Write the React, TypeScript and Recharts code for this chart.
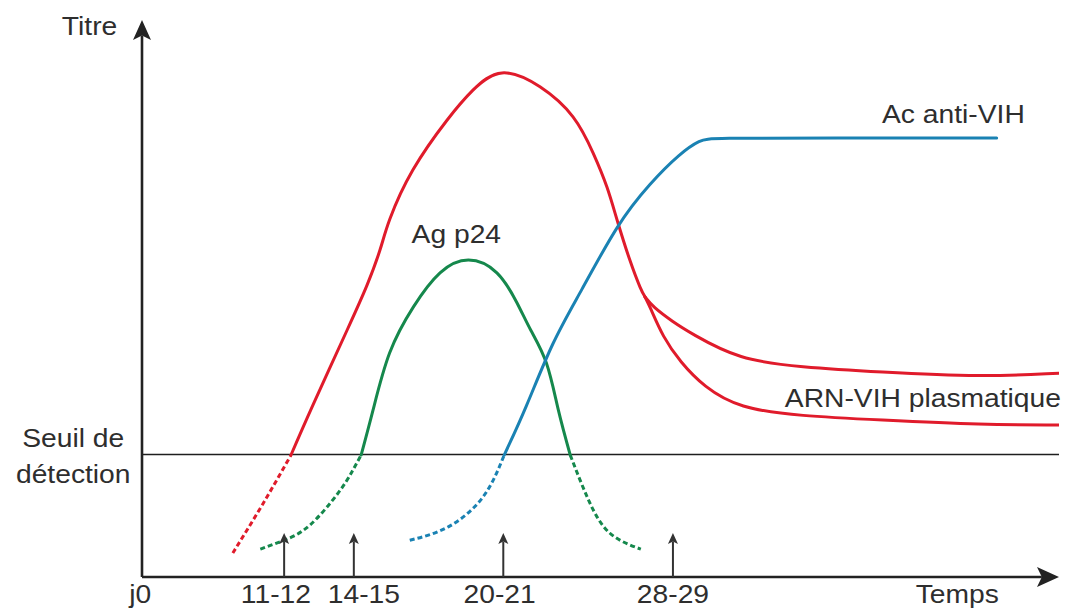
import { LineChart, Line, XAxis, YAxis, ReferenceLine, ReferenceDot } from 'recharts';

// Schematic units: time 0..100 (j0 at 0), titre 0..100.
const THRESHOLD = 22;

// ARN-VIH plasmatique (red)
const rnaUndetected = [
  { t: 9.9, v: 4.3 },
  { t: 13.1, v: 12.9 },
  { t: 16.25, v: 21.9 },
];
const rnaDetected = [
  { t: 16.25, v: 21.9 },
  { t: 18.65, v: 30.9 },
  { t: 22.36, v: 44.3 },
  { t: 24.54, v: 52.4 },
  { t: 25.95, v: 58.7 },
  { t: 27.04, v: 64.3 },
  { t: 29.55, v: 73.1 },
  { t: 33.26, v: 82.0 },
  { t: 36.09, v: 87.4 },
  { t: 39.26, v: 90.5 },
  { t: 43.4, v: 88.0 },
  { t: 47.0, v: 82.6 },
  { t: 49.2, v: 76.1 },
  { t: 50.7, v: 70.0 },
  { t: 51.9, v: 63.6 },
  { t: 53.2, v: 56.9 },
  { t: 54.3, v: 52.1 },
  { t: 54.85, v: 50.3 },
];
const rnaPlateauHigh = [
  { t: 54.85, v: 50.3 },
  { t: 55.7, v: 48.5 },
  { t: 57.9, v: 45.8 },
  { t: 59.8, v: 43.8 },
  { t: 65.1, v: 39.0 },
  { t: 71.8, v: 37.7 },
  { t: 80.3, v: 36.8 },
  { t: 91.7, v: 35.9 },
  { t: 100, v: 36.6 },
];
const rnaPlateauLow = [
  { t: 54.85, v: 50.3 },
  { t: 55.4, v: 48.5 },
  { t: 56.8, v: 43.1 },
  { t: 58.7, v: 38.6 },
  { t: 61.3, v: 34.1 },
  { t: 65.1, v: 30.3 },
  { t: 71.8, v: 28.9 },
  { t: 80.3, v: 28.2 },
  { t: 91.7, v: 27.3 },
  { t: 100, v: 27.3 },
];

// Ag p24 (green)
const p24RiseUndetected = [
  { t: 12.9, v: 5.0 },
  { t: 15.5, v: 6.6 },
  { t: 18.3, v: 9.3 },
  { t: 21.4, v: 15.1 },
  { t: 22.9, v: 18.9 },
  { t: 23.9, v: 21.9 },
];
const p24Detected = [
  { t: 23.9, v: 21.9 },
  { t: 25.2, v: 30.0 },
  { t: 27.0, v: 40.2 },
  { t: 29.6, v: 48.5 },
  { t: 32.5, v: 54.6 },
  { t: 35.6, v: 56.9 },
  { t: 38.7, v: 54.6 },
  { t: 40.9, v: 49.2 },
  { t: 42.4, v: 44.3 },
  { t: 44.1, v: 38.4 },
  { t: 45.4, v: 30.0 },
  { t: 46.7, v: 21.9 },
];
const p24FallUndetected = [
  { t: 46.7, v: 21.9 },
  { t: 48.7, v: 13.8 },
  { t: 51.0, v: 7.9 },
  { t: 54.4, v: 5.0 },
];

// Ac anti-VIH (blue)
const abUndetected = [
  { t: 29.2, v: 6.6 },
  { t: 33.4, v: 9.0 },
  { t: 37.2, v: 14.4 },
  { t: 39.5, v: 21.9 },
];
const abDetected = [
  { t: 39.5, v: 21.9 },
  { t: 41.8, v: 30.0 },
  { t: 44.8, v: 42.5 },
  { t: 47.8, v: 51.0 },
  { t: 51.9, v: 63.6 },
  { t: 55.4, v: 70.7 },
  { t: 58.7, v: 76.1 },
  { t: 60.9, v: 78.5 },
  { t: 62.1, v: 78.8 },
  { t: 75.0, v: 78.8 },
  { t: 93.2, v: 78.8 },
];

// x axis labels and the small arrows above them
const TIME_TICKS = [-0.2, 14.6, 24.2, 39.0, 57.9, 88.9];
const TIME_LABELS = ['j0', '11-12', '14-15', '20-21', '28-29', 'Temps'];
const ARROW_TIMES = [15.5, 23.1, 39.4, 57.9];
const ARROW_TOP = 7.9;

const ANNOTATIONS = [
  { text: 'Titre', t: -2.7, v: 97.3, anchor: 'end' },
  { text: 'Seuil de', t: -7.5, v: 23.3, anchor: 'middle' },
  { text: 'détection', t: -7.5, v: 16.9, anchor: 'middle' },
  { text: 'Ag p24', t: 29.4, v: 60.0, anchor: 'start' },
  { text: 'Ac anti-VIH', t: 80.7, v: 81.5, anchor: 'start' },
  { text: 'ARN-VIH plasmatique', t: 70.1, v: 30.5, anchor: 'start' },
];

const RED = '#e01b2b';
const GREEN = '#15884c';
const BLUE = '#1a82b3';
const INK = '#2e2e2e';
const FONT = '"Liberation Sans", Arial, sans-serif';
const FONT_SIZE = 25;
const STRETCH = 1.13; // the source lettering is a little wide

function StretchedText({ x, y, text, anchor }: { x: number; y: number; text: string; anchor: string }) {
  return (
    <text
      transform={`translate(${x} ${y}) scale(${STRETCH} 1)`}
      textAnchor={anchor as any}
      fontFamily={FONT}
      fontSize={FONT_SIZE}
      fill={INK}
    >
      {text}
    </text>
  );
}

function arrowShape(head: number, halfWidth: number, color: string, width: number) {
  return (p: any) => {
    const { x1, y1, x2, y2 } = p;
    const len = Math.hypot(x2 - x1, y2 - y1) || 1;
    const ux = (x2 - x1) / len;
    const uy = (y2 - y1) / len;
    const nx = -uy;
    const ny = ux;
    const bx = x2 - ux * head;
    const by = y2 - uy * head;
    const notchX = x2 - ux * head * 0.78;
    const notchY = y2 - uy * head * 0.78;
    const pts = [
      `${x2},${y2}`,
      `${bx + nx * halfWidth},${by + ny * halfWidth}`,
      `${notchX},${notchY}`,
      `${bx - nx * halfWidth},${by - ny * halfWidth}`,
    ].join(' ');
    return (
      <g>
        <line x1={x1} y1={y1} x2={notchX} y2={notchY} stroke={color} strokeWidth={width} />
        <polygon points={pts} fill={color} />
      </g>
    );
  };
}

const TimeTick = ({ x, y, payload, index }: any) => {
  const i = TIME_TICKS.indexOf(payload.value);
  return <StretchedText x={x} y={y + 18} text={TIME_LABELS[i >= 0 ? i : index]} anchor="middle" />;
};

const lineProps = {
  type: 'natural' as const,
  dataKey: 'v',
  dot: false,
  activeDot: false,
  isAnimationActive: false,
  strokeWidth: 3,
  strokeLinecap: 'round' as const,
};
const dotted = { strokeDasharray: '5 3', strokeLinecap: 'butt' as const };

export default function App() {
  return (
    <div style={{ position: 'absolute', left: 0, top: 0, background: '#fff' }}>
      <LineChart width={1073} height={612} margin={{ top: 20, right: 14, bottom: 0, left: 142 }}>
        <XAxis
          dataKey="t"
          type="number"
          domain={[0, 100]}
          allowDataOverflow
          ticks={TIME_TICKS}
          interval={0}
          tick={<TimeTick />}
          tickLine={false}
          axisLine={false}
          height={35}
        />
        <YAxis type="number" domain={[0, 100]} allowDataOverflow hide />

        <ReferenceLine
          segment={[{ x: 0, y: THRESHOLD }, { x: 100, y: THRESHOLD }]}
          stroke="#1e1e1e"
          strokeWidth={1.6}
          ifOverflow="visible"
        />

        <Line {...lineProps} {...dotted} data={rnaUndetected} stroke={RED} />
        <Line {...lineProps} data={rnaDetected} stroke={RED} />
        <Line {...lineProps} type="basis" data={rnaPlateauHigh} stroke={RED} />
        <Line {...lineProps} type="basis" data={rnaPlateauLow} stroke={RED} />

        <Line {...lineProps} {...dotted} data={p24RiseUndetected} stroke={GREEN} />
        <Line {...lineProps} data={p24Detected} stroke={GREEN} />
        <Line {...lineProps} {...dotted} data={p24FallUndetected} stroke={GREEN} />

        <Line {...lineProps} {...dotted} data={abUndetected} stroke={BLUE} />
        <Line {...lineProps} type="basis" data={abDetected} stroke={BLUE} />

        {/* axes with arrowheads */}
        <ReferenceLine
          segment={[{ x: 0, y: 0 }, { x: 0, y: 100 }]}
          ifOverflow="visible"
          shape={arrowShape(20, 9, '#222', 2.6)}
        />
        <ReferenceLine
          segment={[{ x: 0, y: 0 }, { x: 100, y: 0 }]}
          ifOverflow="visible"
          shape={arrowShape(22, 10, '#222', 2.6)}
        />
        {ARROW_TIMES.map((t) => (
          <ReferenceLine
            key={t}
            segment={[{ x: t, y: 0 }, { x: t, y: ARROW_TOP }]}
            ifOverflow="visible"
            shape={arrowShape(11, 5, '#333', 2)}
          />
        ))}

        {ANNOTATIONS.map((a) => (
          <ReferenceDot
            key={a.text}
            x={a.t}
            y={a.v}
            r={0}
            ifOverflow="visible"
            shape={(p: any) => <StretchedText x={p.cx} y={p.cy} text={a.text} anchor={a.anchor} />}
          />
        ))}
      </LineChart>
    </div>
  );
}
